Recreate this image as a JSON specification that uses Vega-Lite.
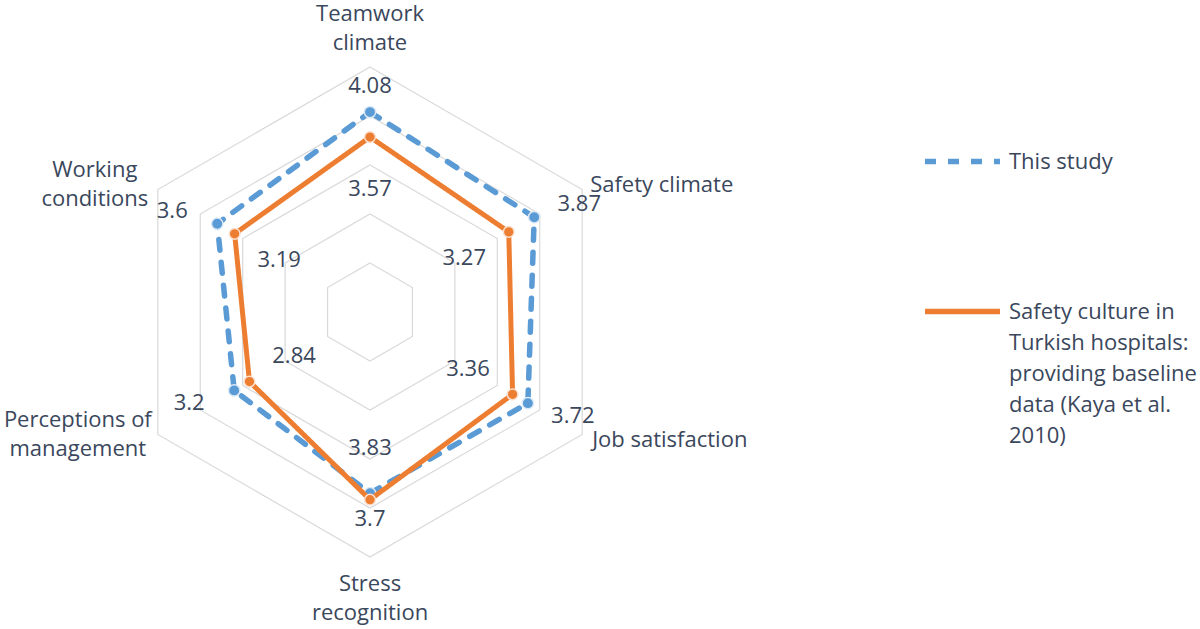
{
  "$schema": "https://vega.github.io/schema/vega-lite/v6.json",
  "width": 490,
  "height": 490,
  "autosize": "none",
  "padding": {"left": 125, "top": 67, "right": 585, "bottom": 72},
  "background": "#ffffff",
  "config": {
    "view": {"stroke": null},
    "font": "Open Sans",
    "text": {"font": "Open Sans", "fontSize": 22, "fontWeight": 500, "color": "#3a475c", "lineHeight": 29}
  },
  "datasets": {
    "scores": [
      {"series": "This study", "axis": "Teamwork\nclimate", "value": 4.08},
      {"series": "This study", "axis": "Safety climate", "value": 3.87},
      {"series": "This study", "axis": "Job satisfaction", "value": 3.72},
      {"series": "This study", "axis": "Stress\nrecognition", "value": 3.7},
      {"series": "This study", "axis": "Perceptions of\nmanagement", "value": 3.2},
      {"series": "This study", "axis": "Working\nconditions", "value": 3.6},
      {"series": "Safety culture in Turkish hospitals: providing baseline data (Kaya et al. 2010)", "axis": "Teamwork\nclimate", "value": 3.57},
      {"series": "Safety culture in Turkish hospitals: providing baseline data (Kaya et al. 2010)", "axis": "Safety climate", "value": 3.27},
      {"series": "Safety culture in Turkish hospitals: providing baseline data (Kaya et al. 2010)", "axis": "Job satisfaction", "value": 3.36},
      {"series": "Safety culture in Turkish hospitals: providing baseline data (Kaya et al. 2010)", "axis": "Stress\nrecognition", "value": 3.83},
      {"series": "Safety culture in Turkish hospitals: providing baseline data (Kaya et al. 2010)", "axis": "Perceptions of\nmanagement", "value": 2.84},
      {"series": "Safety culture in Turkish hospitals: providing baseline data (Kaya et al. 2010)", "axis": "Working\nconditions", "value": 3.19}
    ],
    "rings": [
      {"ring": 1, "spoke": [0, 1, 2, 3, 4, 5]},
      {"ring": 2, "spoke": [0, 1, 2, 3, 4, 5]},
      {"ring": 3, "spoke": [0, 1, 2, 3, 4, 5]},
      {"ring": 4, "spoke": [0, 1, 2, 3, 4, 5]},
      {"ring": 5, "spoke": [0, 1, 2, 3, 4, 5]}
    ]
  },
  "encoding": {
    "x": {"field": "x", "type": "quantitative", "scale": {"domain": [-5, 5]}, "axis": null},
    "y": {"field": "y", "type": "quantitative", "scale": {"domain": [-5, 5]}, "axis": null}
  },
  "layer": [
    {
      "data": {"name": "rings"},
      "transform": [
        {"flatten": ["spoke"]},
        {"calculate": "datum.ring * sin(datum.spoke * PI / 3)", "as": "x"},
        {"calculate": "datum.ring * cos(datum.spoke * PI / 3)", "as": "y"}
      ],
      "mark": {"type": "line", "interpolate": "linear-closed", "color": "#d9d9d9", "strokeWidth": 1.2},
      "encoding": {
        "detail": {"field": "ring", "type": "nominal"},
        "order": {"field": "spoke", "type": "quantitative"}
      }
    },
    {
      "data": {"name": "scores"},
      "transform": [
        {"window": [{"op": "row_number", "as": "rank"}], "groupby": ["series"]},
        {"calculate": "(datum.rank - 1) * PI / 3", "as": "angle"},
        {"calculate": "datum.value * sin(datum.angle)", "as": "x"},
        {"calculate": "datum.value * cos(datum.angle)", "as": "y"},
        {"calculate": "5 * sin(datum.angle)", "as": "ax"},
        {"calculate": "5 * cos(datum.angle)", "as": "ay"},
        {"calculate": "datum.series == 'This study' ? datum.x + 1.06 * sin(datum.angle) : datum.x - 1.05 * sin(datum.angle)", "as": "lx"},
        {"calculate": "datum.series == 'This study' ? datum.y + 0.53 * cos(datum.angle) : datum.y - 1.05 * cos(datum.angle)", "as": "ly"}
      ],
      "layer": [
        {
          "transform": [{"filter": "datum.series == 'This study'"}],
          "mark": {"type": "line", "interpolate": "linear-closed", "strokeWidth": 5.5, "strokeCap": "round"},
          "encoding": {
            "order": {"field": "rank", "type": "quantitative"},
            "color": {
              "field": "series", "type": "nominal", "title": null,
              "scale": {
                "domain": ["This study", "Safety culture in Turkish hospitals: providing baseline data (Kaya et al. 2010)"],
                "range": ["#5b9bd5", "#ed7d31"]
              },
              "legend": {
                "orient": "none", "legendX": 797, "legendY": 54,
                "symbolType": "stroke", "symbolSize": 5625, "symbolStrokeWidth": 5.5,
                "labelFont": "Open Sans", "labelFontSize": 22, "labelFontWeight": 500, "labelColor": "#3a475c",
                "labelLimit": 400, "labelOffset": 6, "rowPadding": 98,
                "labelExpr": "datum.label == 'This study' ? datum.label : ['Safety culture in', 'Turkish hospitals:', 'providing baseline', 'data (Kaya et al.', '2010)']",
                "encode": {"labels": {"update": {"lineHeight": {"value": 31}}}}
              }
            },
            "strokeDash": {
              "field": "series", "type": "nominal", "title": null,
              "scale": {
                "domain": ["This study", "Safety culture in Turkish hospitals: providing baseline data (Kaya et al. 2010)"],
                "range": [[11, 12], [1, 0]]
              }
            }
          }
        },
        {
          "transform": [{"filter": "datum.series == 'This study'"}],
          "mark": {"type": "point", "filled": true, "size": 130, "fill": "#5b9bd5", "stroke": "#dce9f6", "strokeWidth": 1.5, "opacity": 1}
        },
        {
          "transform": [{"filter": "datum.series != 'This study'"}],
          "mark": {"type": "line", "interpolate": "linear-closed", "strokeWidth": 5, "strokeCap": "round"},
          "encoding": {
            "order": {"field": "rank", "type": "quantitative"},
            "color": {"field": "series", "type": "nominal", "title": null},
            "strokeDash": {"field": "series", "type": "nominal", "title": null}
          }
        },
        {
          "transform": [{"filter": "datum.series != 'This study'"}],
          "mark": {"type": "point", "filled": true, "size": 115, "fill": "#ed7d31", "stroke": "#fbe0cf", "strokeWidth": 1.5, "opacity": 1}
        },
        {
          "mark": {"type": "text", "align": "center", "baseline": "middle"},
          "encoding": {
            "x": {"field": "lx", "type": "quantitative"},
            "y": {"field": "ly", "type": "quantitative"},
            "text": {"field": "value", "type": "quantitative"}
          }
        },
        {
          "transform": [{"filter": "datum.series == 'This study' && datum.rank == 1"}],
          "mark": {"type": "text", "align": "center", "baseline": "middle", "lineBreak": "\n", "dy": -53},
          "encoding": {
            "x": {"field": "ax", "type": "quantitative"},
            "y": {"field": "ay", "type": "quantitative"},
            "text": {"field": "axis"}
          }
        },
        {
          "transform": [{"filter": "datum.series == 'This study' && datum.rank == 2"}],
          "mark": {"type": "text", "align": "left", "baseline": "middle", "lineBreak": "\n", "dx": 8, "dy": -5},
          "encoding": {
            "x": {"field": "ax", "type": "quantitative"},
            "y": {"field": "ay", "type": "quantitative"},
            "text": {"field": "axis"}
          }
        },
        {
          "transform": [{"filter": "datum.series == 'This study' && datum.rank == 3"}],
          "mark": {"type": "text", "align": "left", "baseline": "middle", "lineBreak": "\n", "dx": 10, "dy": 5},
          "encoding": {
            "x": {"field": "ax", "type": "quantitative"},
            "y": {"field": "ay", "type": "quantitative"},
            "text": {"field": "axis"}
          }
        },
        {
          "transform": [{"filter": "datum.series == 'This study' && datum.rank == 4"}],
          "mark": {"type": "text", "align": "center", "baseline": "middle", "lineBreak": "\n", "dy": 27},
          "encoding": {
            "x": {"field": "ax", "type": "quantitative"},
            "y": {"field": "ay", "type": "quantitative"},
            "text": {"field": "axis"}
          }
        },
        {
          "transform": [{"filter": "datum.series == 'This study' && datum.rank == 5"}],
          "mark": {"type": "text", "align": "center", "baseline": "middle", "lineBreak": "\n", "dx": -80, "dy": -15},
          "encoding": {
            "x": {"field": "ax", "type": "quantitative"},
            "y": {"field": "ay", "type": "quantitative"},
            "text": {"field": "axis"}
          }
        },
        {
          "transform": [{"filter": "datum.series == 'This study' && datum.rank == 6"}],
          "mark": {"type": "text", "align": "center", "baseline": "middle", "lineBreak": "\n", "dx": -63, "dy": -20},
          "encoding": {
            "x": {"field": "ax", "type": "quantitative"},
            "y": {"field": "ay", "type": "quantitative"},
            "text": {"field": "axis"}
          }
        }
      ]
    }
  ]
}
